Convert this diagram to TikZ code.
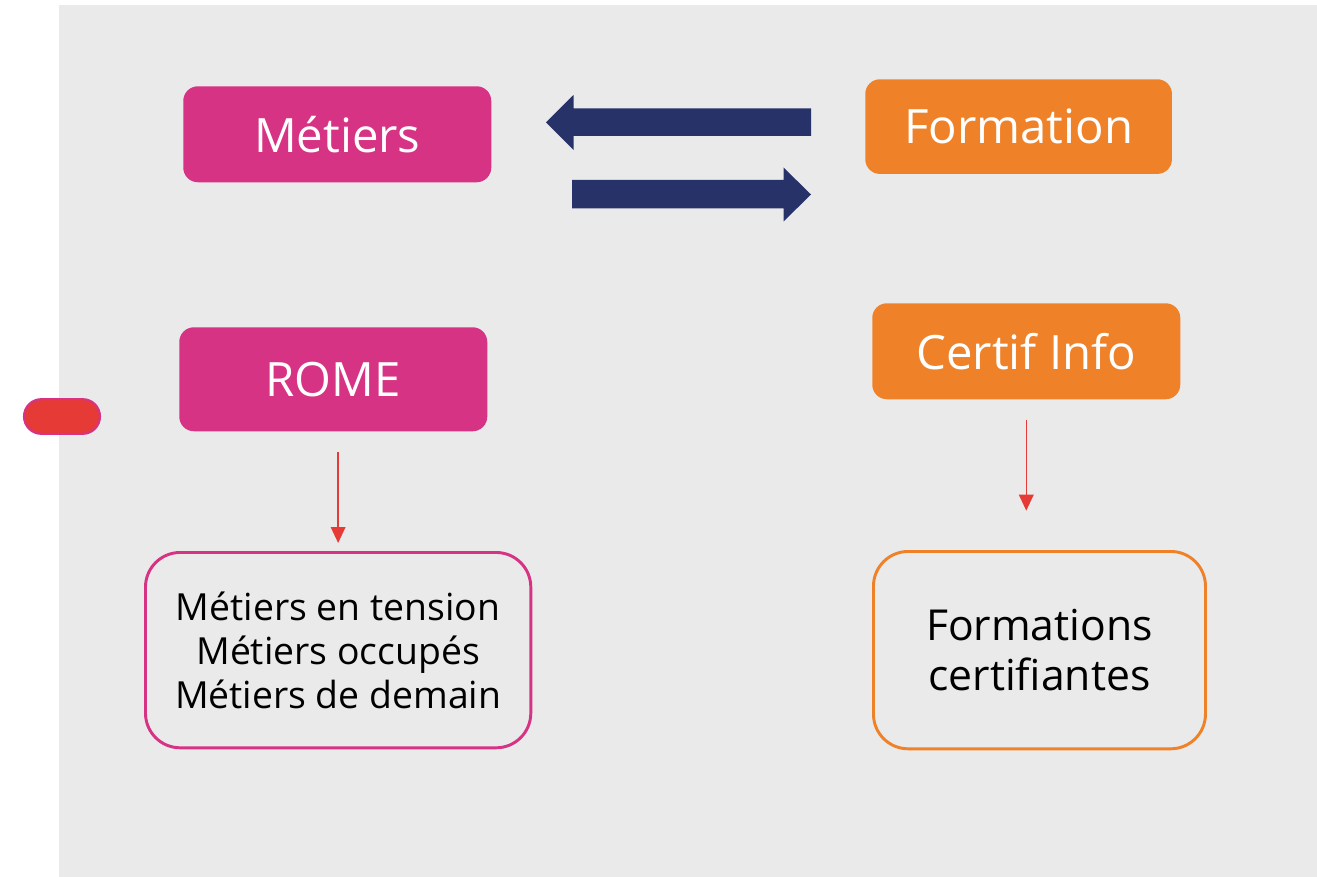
\documentclass[tikz,border=0pt]{standalone}
\usepackage{fontspec}
\setmainfont{Open Sans}
\usetikzlibrary{arrows.meta}
\definecolor{bggray}{HTML}{EAEAEA}
\definecolor{magen}{HTML}{D63384}
\definecolor{orng}{HTML}{EF8229}
\definecolor{navy}{HTML}{263268}
\definecolor{redc}{HTML}{E53A35}
\tikzset{
  px/.style={x=0.75pt,y=-0.75pt},
  solidbox/.style={rounded corners=11pt, text=white, font=\fontsize{35.5}{42}\selectfont, inner sep=0pt, anchor=north west},
  outbox/.style={rounded corners=26pt, line width=2.2pt, fill=bggray, text=black, inner sep=0pt, anchor=north west, align=center},
  redarrow/.style={draw=redc, line width=1.1pt, -{Triangle[width=11pt,length=12pt]}},
  navyarrow/.style={fill=navy, draw=none}
}
\begin{document}
\begin{tikzpicture}[px]
\useasboundingbox (0,0) rectangle (1317,877);
\fill[bggray] (59,5) rectangle (1317,877);
% solid boxes
\node[solidbox, fill=magen, minimum width=231pt, minimum height=72pt] (metiers) at (183,86) {Métiers};
\node[solidbox, fill=orng, minimum width=230pt, minimum height=71pt] (formation) at (865,79) {Formation};
\node[solidbox, fill=magen, minimum width=231pt, minimum height=78pt] (rome) at (179,327) {ROME};
\node[solidbox, fill=orng, minimum width=231pt, minimum height=72pt] (certif) at (872,303) {Certif Info};
% outlined boxes
\node[outbox, draw=magen, minimum width=289pt, minimum height=146.5pt, font=\fontsize{28}{33}\selectfont] (pinkbox) at (144,551) {Métiers en tension\\Métiers occupés\\Métiers de demain};
\node[outbox, draw=orng, minimum width=249pt, minimum height=148pt, font=\fontsize{32}{37.5}\selectfont] (orangebox) at (872,550) {Formations\\certifiantes};
% red pill
\node[draw=magen, fill=redc, line width=1.6pt, rounded corners=13pt, minimum width=57pt, minimum height=26pt, inner sep=0pt] (pill) at (62,416.5) {};
% navy arrows
\fill[navyarrow] (811,108.5) -- (573.5,108.5) -- (573.5,95) -- (546,122.3) -- (573.5,150) -- (573.5,136) -- (811,136) -- cycle;
\fill[navyarrow] (572,180) -- (783.5,180) -- (783.5,167.5) -- (811,194.5) -- (783.5,221.5) -- (783.5,208.5) -- (572,208.5) -- cycle;
% red arrows
\coordinate (romeArrowStart) at ([yshift=-15.5pt]rome.south -| pinkbox.north);
\draw[redarrow, shorten >=6pt] (romeArrowStart) -- (romeArrowStart |- pinkbox.north);
\coordinate (certifArrowStart) at ([yshift=-15pt]certif.south);
\coordinate (certifArrowEnd) at ([yshift=29.5pt]certif.south |- orangebox.north);
\draw[redarrow] (certifArrowStart) -- (certifArrowEnd);
\end{tikzpicture}
\end{document}
